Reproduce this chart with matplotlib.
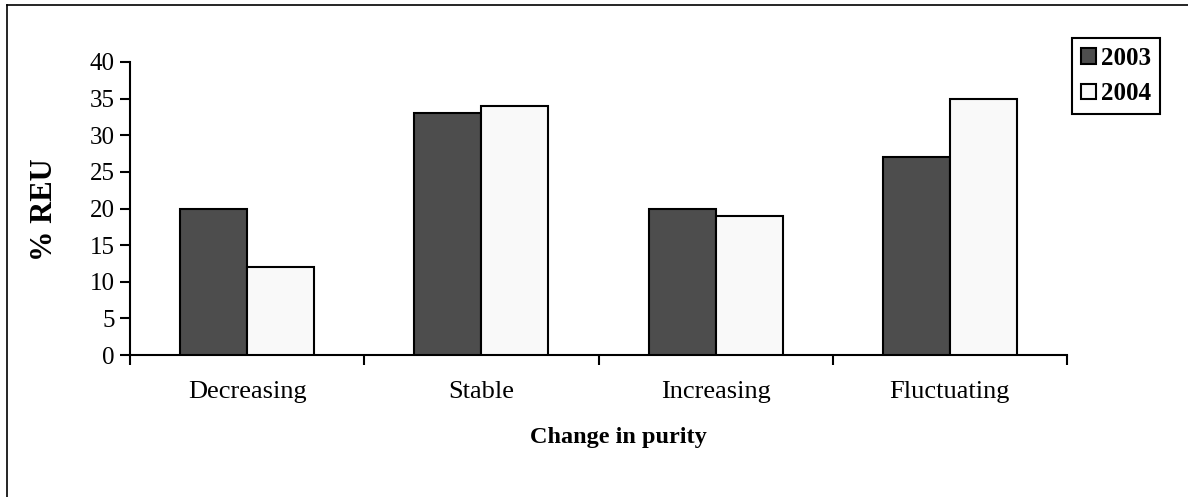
import matplotlib.pyplot as plt
import numpy as np
from matplotlib.lines import Line2D

# Share of REU reporting each type of change in purity
categories = ['Decreasing', 'Stable', 'Increasing', 'Fluctuating']
years = ['2003', '2004']
pct_2003 = [20, 33, 20, 27]
pct_2004 = [12, 34, 19, 35]

plt.rcParams['font.family'] = ['Liberation Serif', 'DejaVu Serif']

fig = plt.figure(figsize=(11.88, 4.97), dpi=100)
ax = fig.add_axes([130 / 1188, 1 - 355 / 497, (1067 - 130) / 1188, (355 - 62) / 497])

x = np.arange(len(categories))
w = 1 / 3.5
ax.bar(x - w / 2, pct_2003, w, color='#4d4d4d', edgecolor='black', linewidth=1.5, label=years[0], zorder=3)
ax.bar(x + w / 2, pct_2004, w, color='#f9f9f9', edgecolor='black', linewidth=1.5, label=years[1], zorder=3)

ax.set_xlim(-0.5, len(categories) - 0.5)
ax.set_ylim(0, 40)
ax.set_yticks(range(0, 41, 5))
ax.tick_params(axis='y', direction='out', length=7, width=1.5, pad=4, labelsize=18)

# ticks at category boundaries, labels in between
ax.set_xticks(np.arange(-0.5, len(categories), 1))
ax.set_xticklabels([])
ax.set_xticks(x, minor=True)
ax.set_xticklabels(categories, minor=True, fontsize=19)
ax.tick_params(axis='x', which='major', direction='out', length=7, width=1.5)
ax.tick_params(axis='x', which='minor', length=0, pad=19)

for s in ['top', 'right']:
    ax.spines[s].set_visible(False)
for s in ['left', 'bottom']:
    ax.spines[s].set_linewidth(1.5)

fig.text(618 / 1188, 1 - 437 / 497, 'Change in purity', ha='center', va='center',
         fontsize=17.5, fontweight='bold')
fig.text(44 / 1188, 1 - 210 / 497, '% REU', ha='center', va='center', rotation=90,
         fontsize=22, fontweight='bold')

leg = fig.legend(loc='upper left', bbox_to_anchor=(1072 / 1188, 1 - 38 / 497),
                 fancybox=False, edgecolor='black', framealpha=1,
                 handlelength=0.6, handleheight=0.6, handletextpad=0.2,
                 labelspacing=0.5, borderpad=0.35, borderaxespad=0,
                 prop={'size': 18, 'weight': 'bold'})
leg.get_frame().set_linewidth(1.5)

# outer frame around the chart area
fig.add_artist(Line2D([7 / 1188, 7 / 1188], [-0.1, 1 - 5 / 497], color='black', lw=1.2))
fig.add_artist(Line2D([7 / 1188, 1.1], [1 - 5 / 497, 1 - 5 / 497], color='black', lw=1.2))

fig.savefig('out.png', dpi=100)
